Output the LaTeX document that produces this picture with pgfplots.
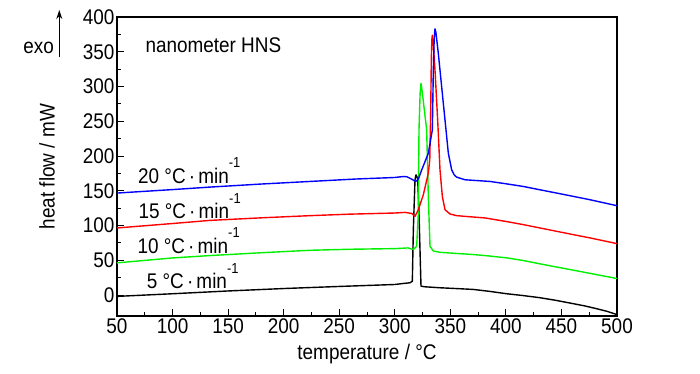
\documentclass[border=0pt]{standalone}
\usepackage{fontspec}
\setmainfont{Liberation Sans}
\usepackage{graphicx}
\usepackage{pgfplots}
\pgfplotsset{compat=1.18}
\usetikzlibrary{arrows.meta}
\definecolor{cblue}{RGB}{0,0,255}
\definecolor{cred}{RGB}{255,0,0}
\definecolor{cgreen}{RGB}{0,240,0}
\newcommand{\vs}[1]{\scalebox{1}[1.12]{#1}}
\newcommand{\rate}[1]{\vs{#1 °C\,·\,min\raisebox{14bp}{\fontsize{13}{13}\selectfont -1}}}
\begin{document}
\begin{tikzpicture}[font=\fontsize{19}{22}\selectfont]
\path[use as bounding box] (0,0) rectangle (700bp,374bp);
\begin{axis}[
  at={(117bp,58bp)}, anchor=south west,
  scale only axis, width=500bp, height=299bp,
  xmin=50, xmax=500, ymin=-30, ymax=400,
  xtick={50,100,...,500}, ytick={0,50,...,400},
  minor x tick num=1, minor y tick num=1,
  tick align=inside, xtick pos=bottom, ytick pos=left,
  major tick length=7bp, minor tick length=4bp,
  axis line style={line width=1.5bp},
  every tick/.style={line width=1bp, black},
  /pgf/number format/assume math mode=true,
  /pgf/number format/1000 sep={},
  xticklabel={\vs{\pgfmathprintnumber{\tick}}},
  yticklabel={\vs{\pgfmathprintnumber{\tick}}},
  xticklabel style={yshift=1bp},
  yticklabel style={xshift=1bp},
  xlabel={\vs{temperature / °C}},
  ylabel={\vs{heat flow / mW}},
  every axis x label/.style={at={(axis description cs:0.5,-0.145)}, anchor=base},
  every axis y label/.style={at={(axis description cs:-0.14,0.5)}, rotate=90, anchor=center},
  clip=false,
  every axis plot/.append style={line width=1.4bp, line join=round, no marks},
]
% 5 C/min
\addplot[black] coordinates {(50,-1.8) (100,2) (150,6) (200,9.5) (250,12.5) (300,15.3) (307.7,16.8) (313.7,17.8) (315.8,20) (316.7,94) (318.2,166) (319.1,173) (320.6,168) (321.8,118) (323.6,12.9) (327.2,12) (340.7,10.6) (355,9.5) (370.7,8.2) (385,5.5) (400.7,2) (415,-0.5) (430.7,-3.7) (445,-7.5) (460.7,-12.3) (471,-15.5) (481.7,-19.5) (491,-23.3) (500,-28)};
% 10 C/min
\addplot[cgreen] coordinates {(50,46.4) (100,53.5) (133.7,56.9) (180,61) (223.7,64.5) (260,66) (300,66.9) (312,67.9) (316.7,65.5) (319.7,70.2) (321.2,118) (321.8,237.6) (322.8,290) (323.6,304.5) (324.5,295) (328.7,237.6) (330.2,142) (331.7,70.2) (334.7,63.5) (340.7,61.6) (355,60) (370.7,58.4) (385,56.3) (400.7,53.6) (415,50) (430.7,45) (445,40.6) (460.7,35.9) (480,30) (500,23.9)};
% 15 C/min
\addplot[cred] coordinates {(50,96.6) (100,103) (133.7,107.5) (180,111.2) (223.7,114.3) (260,116.5) (300,118.1) (309.2,119) (315.2,117.5) (318.2,113.3) (321.2,122.9) (325.7,144.4) (330.2,175.5) (331.5,195) (332.3,260) (332.9,340) (333.4,368) (333.8,373.8) (334.5,366) (336.2,323.6) (338.6,251.9) (340.7,180.2) (342.8,142) (345.2,122.9) (349.7,116.7) (355.7,114.3) (363.2,113.3) (381.2,111) (400.7,105.8) (415.7,101.4) (430.7,96.6) (445.7,91.8) (460.7,87) (475.7,82.3) (500,74.1)};
% 20 C/min
\addplot[cblue] coordinates {(50,146.8) (100,151.8) (133.7,155.4) (180,159.8) (223.7,163.5) (265,167) (300,169.2) (307.7,170.6) (311,170.2) (315.2,166.8) (318.8,163.5) (321.2,166.8) (324.2,180) (330.2,204) (333.8,237.6) (334.7,323.6) (335.5,370) (336.2,383) (337,378) (339.2,347.5) (342.2,299.6) (345.2,251.9) (348.2,204.2) (351.2,180.2) (353.5,173) (355.7,169.7) (363.2,165.9) (385.7,163.5) (400.7,160) (415.7,156.3) (430.7,151.5) (445.7,146.8) (460.7,142) (475.7,137.2) (500,128.6)};
\node[anchor=base west] at (axis cs:72.5,349) {\vs{nanometer HNS}};
\node[anchor=base west, inner sep=0pt] at (axis cs:68.9,161) {\rate{20}};
\node[anchor=base west, inner sep=0pt] at (axis cs:69.2,109.5) {\rate{15}};
\node[anchor=base west, inner sep=0pt] at (axis cs:68.3,59.8) {\rate{10}};
\node[anchor=base west, inner sep=0pt] at (axis cs:76.7,9.1) {\rate{5}};
\end{axis}
\node[anchor=base east, inner sep=0pt] at (54bp,320.7bp) {\vs{exo}};
\draw[line width=1.2bp, -{Stealth[length=9bp,width=6bp]}] (59.3bp,316.7bp) -- (59.3bp,364bp);
\end{tikzpicture}
\end{document}
